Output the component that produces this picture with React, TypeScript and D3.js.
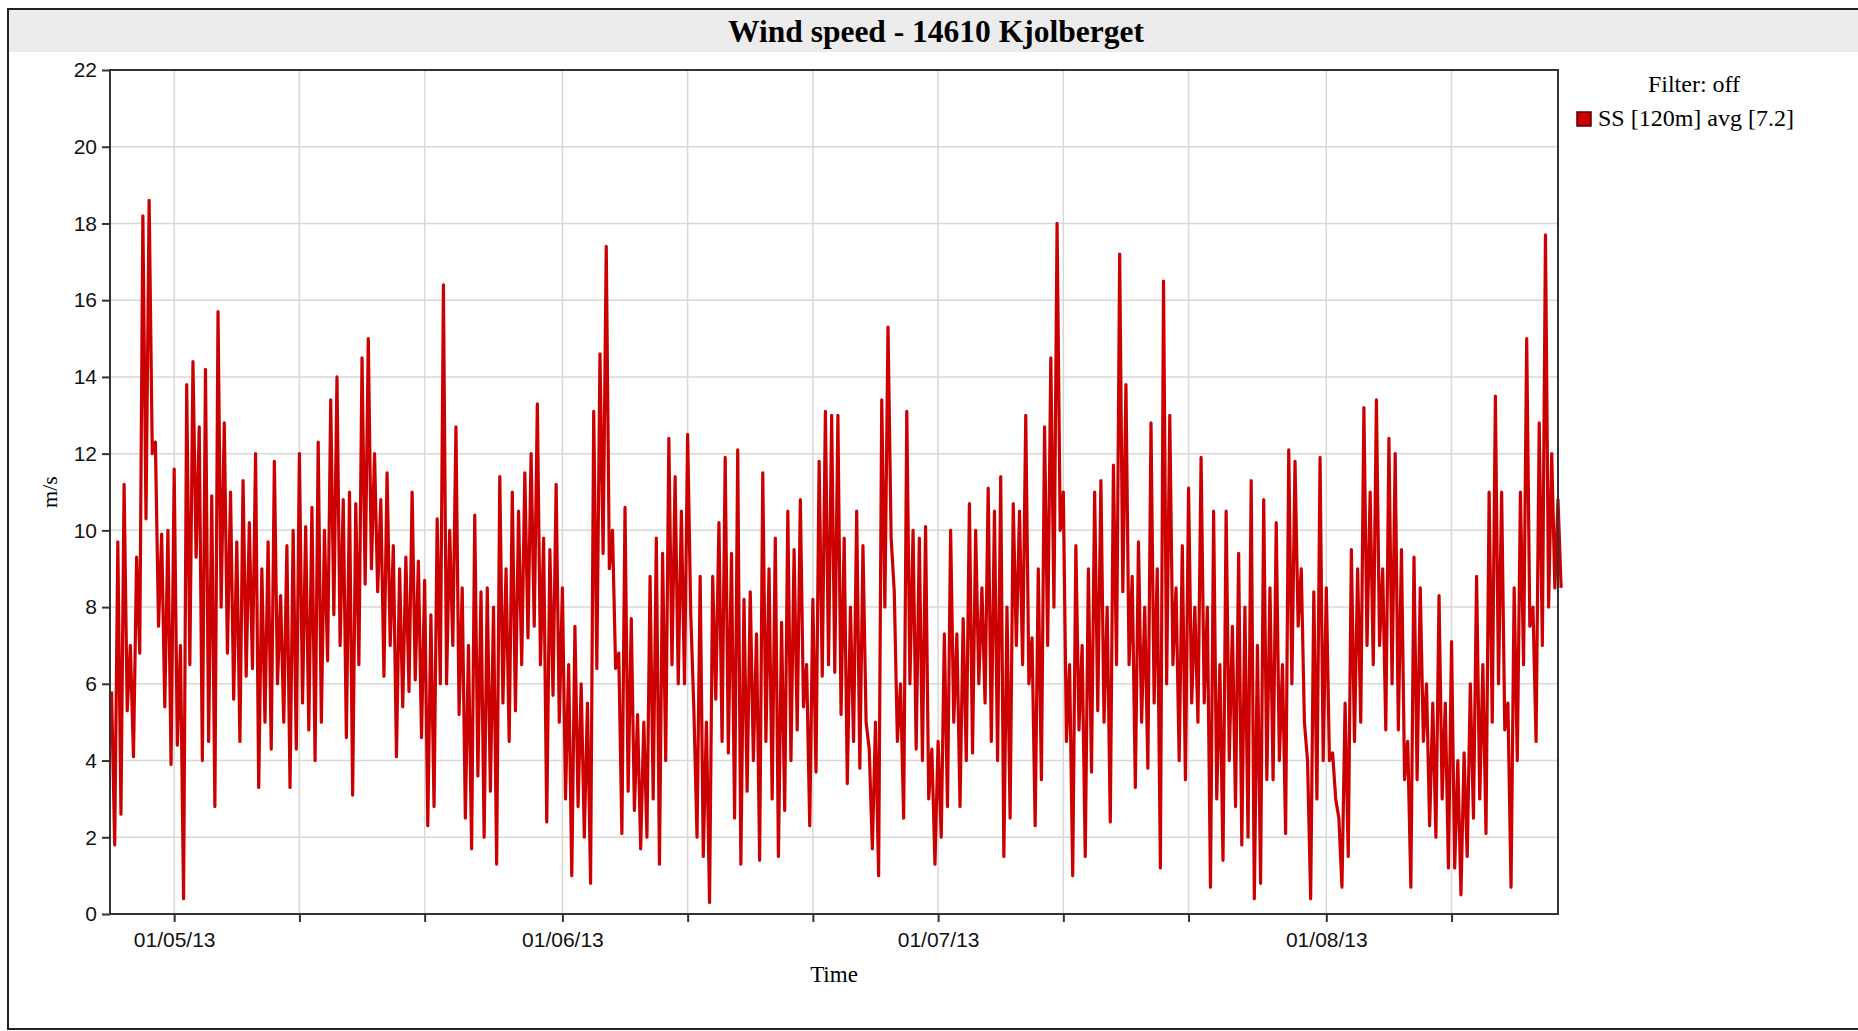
import { useEffect, useRef } from 'react';
import * as d3 from 'd3';

// half-day samples starting 26/04/13 00:00 (upper and lower swing of each half day), m/s
const startDate = new Date(2013, 3, 26);
const stepDays = 0.5;

const highs = [
	5.8, 9.7, 11.2, 7.0, 9.3, 18.2, 18.6, 12.3, 9.9, 10.0,
	11.6, 7.0, 13.8, 14.4, 12.7, 14.2, 10.9, 15.7, 12.8, 11.0,
	9.7, 11.3, 10.2, 12.0, 9.0, 9.7, 11.8, 8.3, 9.6, 10.0,
	12.0, 10.1, 10.6, 12.3, 10.0, 13.4, 14.0, 10.8, 11.0, 10.7,
	14.5, 15.0, 12.0, 10.8, 11.5, 9.6, 9.0, 9.3, 11.0, 9.2,
	8.7, 7.8, 10.3, 16.4, 10.0, 12.7, 8.5, 7.0, 10.4, 8.4,
	8.5, 8.0, 11.4, 9.0, 11.0, 10.5, 11.5, 12.0, 13.3, 9.8,
	9.5, 11.2, 8.5, 6.5, 7.5, 6.0, 5.5, 13.1, 14.6, 17.4,
	10.0, 6.8, 10.6, 7.7, 5.2, 5.0, 8.8, 9.8, 9.4, 12.4,
	11.4, 10.5, 12.5, 5.3, 8.8, 5.0, 8.8, 10.2, 11.9, 9.4,
	12.1, 8.2, 8.4, 7.3, 11.5, 9.0, 9.8, 7.6, 10.5, 9.5,
	10.8, 6.5, 8.2, 11.8, 13.1, 13.0, 13.0, 9.8, 8.0, 10.5,
	9.6, 4.3, 5.0, 13.4, 15.3, 8.4, 6.0, 13.1, 10.0, 9.8,
	10.1, 4.3, 4.5, 7.3, 10.0, 7.3, 7.7, 10.7, 10.0, 8.5,
	11.1, 10.5, 11.4, 8.0, 10.7, 10.5, 13.0, 7.2, 9.0, 12.7,
	14.5, 18.0, 11.0, 6.5, 9.6, 7.0, 9.0, 11.0, 11.3, 8.0,
	11.7, 17.2, 13.8, 8.8, 9.7, 8.0, 12.8, 9.0, 16.5, 13.0,
	8.5, 9.6, 11.1, 8.0, 11.9, 8.0, 10.5, 6.5, 10.5, 7.5,
	9.4, 8.0, 11.3, 7.0, 10.8, 8.5, 10.2, 6.5, 12.1, 11.8,
	9.0, 4.0, 8.4, 11.9, 8.5, 4.2, 2.5, 5.5, 9.5, 9.0,
	13.2, 11.0, 13.4, 9.0, 12.4, 12.0, 9.5, 4.5, 9.3, 8.5,
	6.0, 5.5, 8.3, 5.5, 7.1, 4.0, 4.2, 6.0, 8.8, 6.5,
	11.0, 13.5, 11.0, 5.5, 8.5, 11.0, 15.0, 8.0, 12.8, 17.7,
	12.0, 10.8,
];

const lows = [
	1.8, 2.6, 5.3, 4.1, 6.8, 10.3, 12.0, 7.5, 5.4, 3.9,
	4.4, 0.4, 6.5, 9.3, 4.0, 4.5, 2.8, 8.0, 6.8, 5.6,
	4.5, 6.2, 6.4, 3.3, 5.0, 4.3, 6.0, 5.0, 3.3, 4.3,
	5.5, 4.8, 4.0, 5.0, 6.6, 7.8, 7.0, 4.6, 3.1, 6.5,
	8.6, 9.0, 8.4, 6.2, 7.0, 4.1, 5.4, 5.8, 6.1, 4.6,
	2.3, 2.8, 6.0, 6.0, 7.0, 5.2, 2.5, 1.7, 3.6, 2.0,
	3.2, 1.3, 5.5, 4.5, 5.3, 6.5, 7.2, 7.5, 6.5, 2.4,
	5.7, 5.0, 3.0, 1.0, 2.8, 2.0, 0.8, 6.4, 9.4, 9.0,
	6.4, 2.1, 3.2, 2.7, 1.7, 2.0, 3.0, 1.3, 4.0, 6.5,
	6.0, 6.0, 7.8, 2.0, 1.5, 0.3, 5.6, 4.5, 4.2, 2.5,
	1.3, 3.2, 4.0, 1.4, 4.5, 3.0, 1.5, 2.7, 4.0, 4.8,
	5.4, 2.3, 3.7, 6.2, 6.5, 6.3, 5.2, 3.4, 4.5, 3.8,
	5.0, 1.7, 1.0, 8.0, 9.8, 4.5, 2.5, 6.0, 4.3, 4.0,
	3.0, 1.3, 2.0, 2.8, 5.0, 2.8, 4.0, 4.2, 6.0, 5.5,
	4.5, 4.0, 1.5, 2.5, 7.0, 6.5, 6.0, 2.3, 3.5, 7.0,
	8.0, 10.0, 4.5, 1.0, 4.8, 1.5, 3.7, 5.3, 5.0, 2.4,
	6.5, 8.4, 6.5, 3.3, 5.0, 3.8, 5.5, 1.2, 6.0, 6.5,
	4.0, 3.5, 5.5, 5.0, 5.5, 0.7, 3.0, 1.4, 4.0, 2.8,
	1.8, 2.0, 0.4, 0.8, 3.5, 3.5, 4.0, 2.1, 6.0, 7.5,
	5.0, 0.4, 3.0, 4.0, 4.0, 3.0, 0.7, 1.5, 4.5, 5.0,
	7.0, 6.5, 7.0, 4.8, 6.0, 4.8, 3.5, 0.7, 3.5, 4.5,
	2.3, 2.0, 3.0, 1.2, 1.2, 0.5, 1.5, 2.5, 3.0, 2.1,
	5.0, 6.0, 4.8, 0.7, 4.0, 6.5, 7.5, 4.5, 7.0, 8.0,
	8.5, 8.5,
];

const yTicks = [0, 2, 4, 6, 8, 10, 12, 14, 16, 18, 20, 22];
const xTickDates = [
	'2013-05-01', '2013-05-11', '2013-05-21', '2013-06-01', '2013-06-11', '2013-06-21',
	'2013-07-01', '2013-07-11', '2013-07-21', '2013-08-01', '2013-08-11',
];
const xLabelDates = ['2013-05-01', '2013-06-01', '2013-07-01', '2013-08-01'];

const title = 'Wind speed - 14610 Kjolberget';
const seriesName = 'SS [120m] avg [7.2]';

const parse = d3.timeParse('%Y-%m-%d');
const fmt = d3.timeFormat('%d/%m/%y');

export default function App() {
	const svgRef = useRef<SVGSVGElement>(null);

	useEffect(() => {
		if (!svgRef.current) return;
		const W = 1858;
		const H = 1031;
		const margin = { top: 70, right: 300, bottom: 117, left: 110 };
		const chartWidth = W - margin.left - margin.right;
		const chartHeight = H - margin.top - margin.bottom;

		const root = d3.select(svgRef.current);
		root.selectAll('*').remove();
		root.attr('width', W).attr('height', H);

		// frame + title band
		root.append('rect').attr('x', 8).attr('y', 9).attr('width', W + 10).attr('height', 1020)
			.attr('fill', '#fff').attr('stroke', '#222').attr('stroke-width', 2);
		root.append('rect').attr('x', 9).attr('y', 10).attr('width', W).attr('height', 42).attr('fill', '#ececec');
		root.append('text').attr('x', 936).attr('y', 42).attr('text-anchor', 'middle')
			.style('font-family', '"Liberation Serif", serif').style('font-weight', 'bold').style('font-size', '31.5px')
			.text(title);

		const svg = root.append('g').attr('transform', `translate(${margin.left},${margin.top})`);

		const t0 = d3.timeHour.offset(startDate, -3);
		const t1 = d3.timeHour.offset(startDate, 115.5 * 24);
		const x = d3.scaleTime().domain([t0, t1]).range([0, chartWidth]);
		const y = d3.scaleLinear().domain([0, 22]).range([chartHeight, 0]);

		const ticks = xTickDates.map((s) => parse(s) as Date);

		// grid
		svg.append('g').selectAll('line').data(yTicks.slice(1)).enter().append('line')
			.attr('x1', 0).attr('x2', chartWidth).attr('y1', (d) => y(d)).attr('y2', (d) => y(d))
			.attr('stroke', '#d8d8d8').attr('stroke-width', 1.5);
		svg.append('g').selectAll('line').data(ticks).enter().append('line')
			.attr('x1', (d) => x(d)).attr('x2', (d) => x(d)).attr('y1', 0).attr('y2', chartHeight)
			.attr('stroke', '#d8d8d8').attr('stroke-width', 1.5);

		// series: each half day swings from its high to its low
		const pts: [Date, number][] = [];
		highs.forEach((h, i) => {
			const day = i * stepDays;
			pts.push([d3.timeMinute.offset(startDate, day * 1440), h]);
			pts.push([d3.timeMinute.offset(startDate, (day + stepDays / 2) * 1440), lows[i]]);
		});
		const line = d3.line<[Date, number]>().x((d) => x(d[0])).y((d) => y(d[1]));
		svg.append('path').datum(pts).attr('d', line).attr('fill', 'none')
			.attr('stroke', '#cc0000').attr('stroke-width', 3.2).attr('stroke-linejoin', 'round');

		// frame of plot
		svg.append('rect').attr('width', chartWidth).attr('height', chartHeight)
			.attr('fill', 'none').attr('stroke', '#333').attr('stroke-width', 2);

		// y axis
		const yAxis = svg.append('g').call(d3.axisLeft(y).tickValues(yTicks).tickSize(8).tickPadding(5));
		yAxis.select('.domain').remove();
		yAxis.selectAll('line').attr('stroke', '#333').attr('stroke-width', 2);
		yAxis.selectAll('text').style('font-family', '"Liberation Sans", Arial, sans-serif')
			.style('font-size', '21px').attr('fill', '#111');

		// x axis
		const labelSet = new Set(xLabelDates);
		const xAxis = svg.append('g').attr('transform', `translate(0,${chartHeight})`)
			.call(d3.axisBottom(x).tickValues(ticks).tickSize(8).tickPadding(10)
				.tickFormat((d) => (labelSet.has(d3.timeFormat('%Y-%m-%d')(d as Date)) ? fmt(d as Date) : '')));
		xAxis.select('.domain').remove();
		xAxis.selectAll('line').attr('stroke', '#333').attr('stroke-width', 2);
		xAxis.selectAll('text').style('font-family', '"Liberation Sans", Arial, sans-serif')
			.style('font-size', '21px').attr('fill', '#111');

		// axis titles
		root.append('text').attr('transform', 'translate(57,492) rotate(-90)').attr('text-anchor', 'middle')
			.style('font-family', '"Liberation Serif", serif').style('font-size', '22px').text('m/s');
		root.append('text').attr('x', 834).attr('y', 982).attr('text-anchor', 'middle')
			.style('font-family', '"Liberation Serif", serif').style('font-size', '23px').text('Time');

		// legend
		root.append('text').attr('x', 1694).attr('y', 92).attr('text-anchor', 'middle')
			.style('font-family', '"Liberation Serif", serif').style('font-size', '24px').text('Filter: off');
		root.append('rect').attr('x', 1577).attr('y', 112).attr('width', 14).attr('height', 14)
			.attr('fill', '#cc0000').attr('stroke', '#550000').attr('stroke-width', 1.5);
		root.append('text').attr('x', 1598).attr('y', 126)
			.style('font-family', '"Liberation Serif", serif').style('font-size', '24px').text(seriesName);
	}, []);

	return (
		<div style={{ position: 'absolute', left: 0, top: 0 }}>
			<svg ref={svgRef}></svg>
		</div>
	);
}
